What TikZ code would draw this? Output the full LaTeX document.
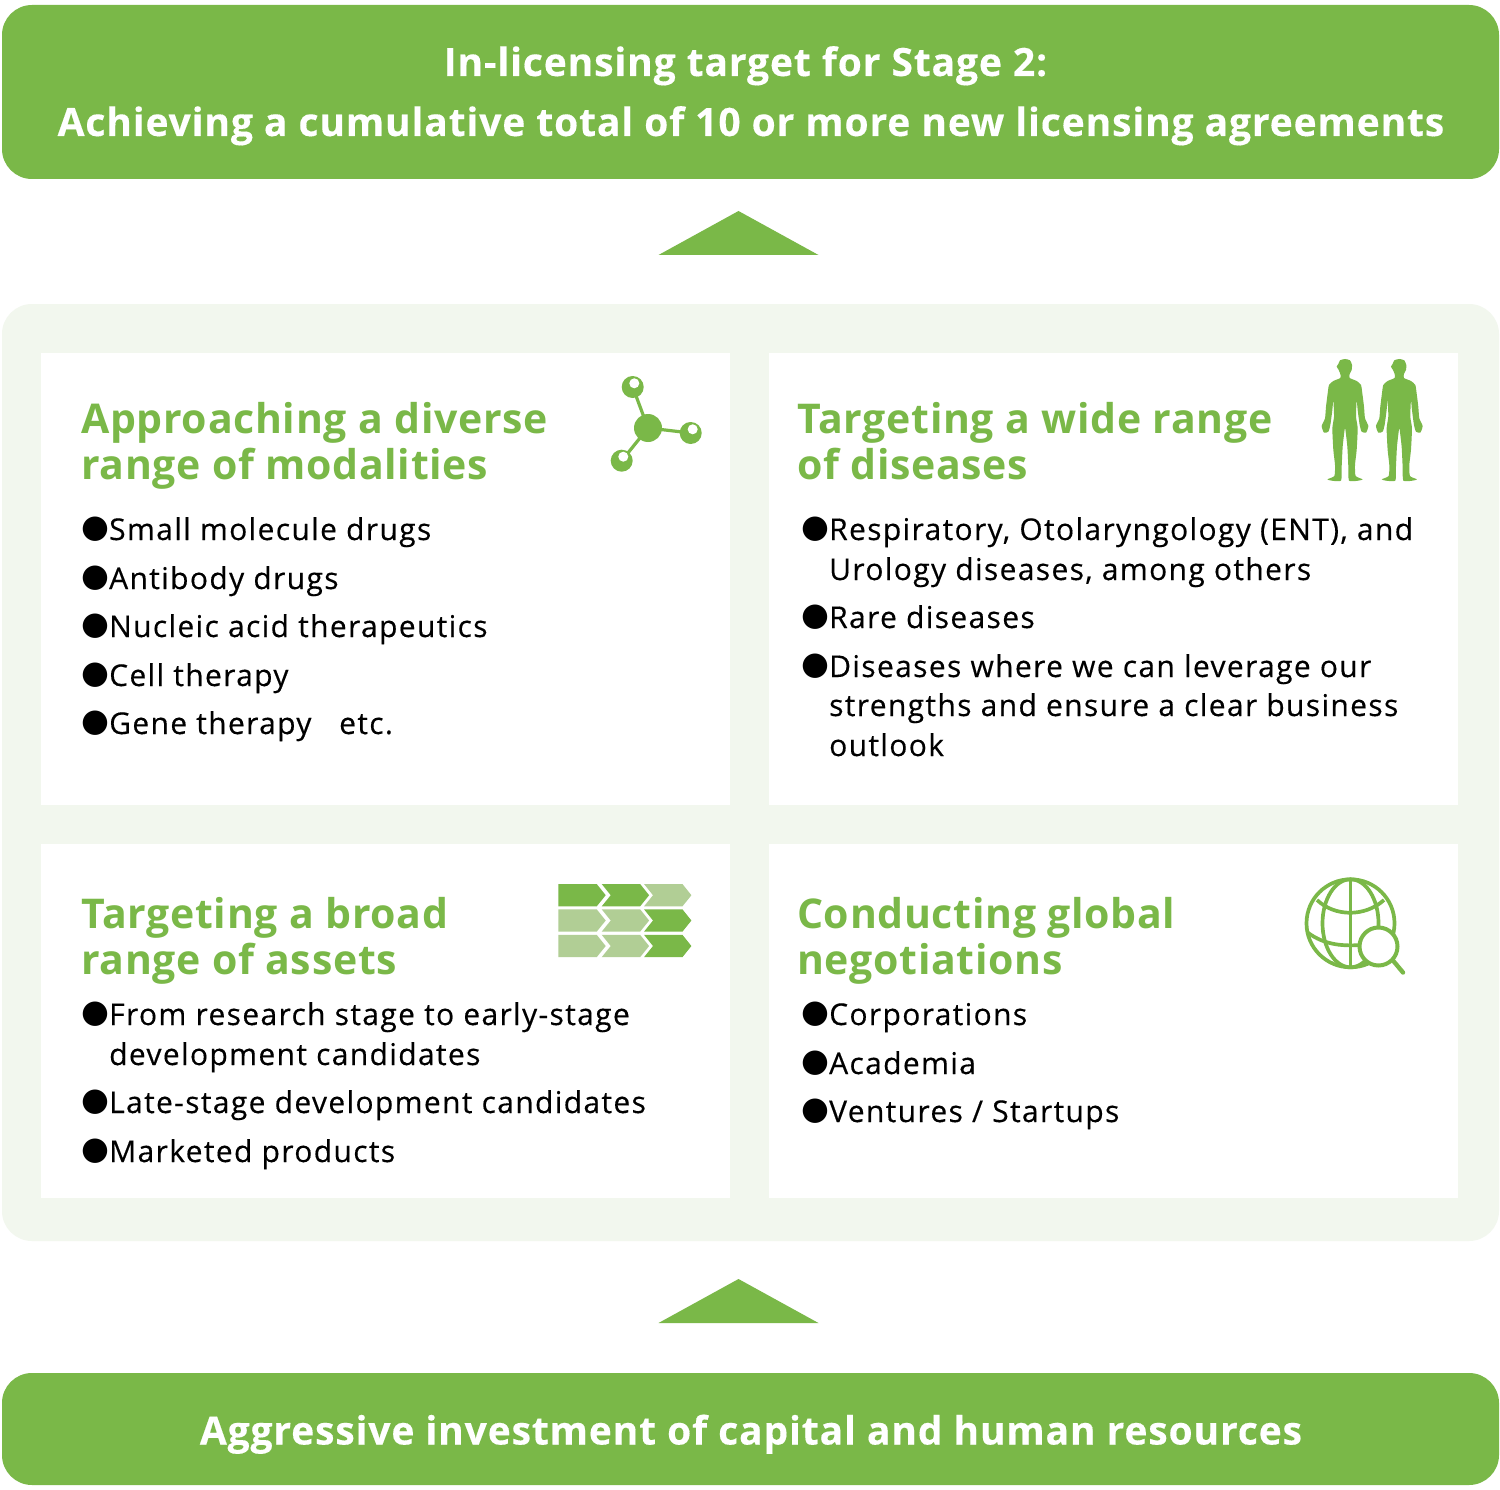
\documentclass[tikz,border=0pt]{standalone}
\usepackage{fontspec}
\setmainfont{Open Sans}
\newfontfamily\bodyfam{Open Sans}[LetterSpace=4.5,FakeBold=0.35]
\newfontfamily\bannerfam{Open Sans Bold}[LetterSpace=2.2,FakeBold=0.3]
\newfontfamily\headfam{Open Sans Bold}[LetterSpace=1.7]
\newfontfamily\bulletfont{DejaVu Sans}
\definecolor{grn}{HTML}{7AB848}
\definecolor{lgrn}{HTML}{B1CE95}
\definecolor{pale}{HTML}{F2F7EE}
\newcommand{\itm}[4]{\node[itemtext] (#1) at (#2,#3) {#4};}
\newcommand{\bul}[3]{\node[bulletmark] (#1) at (#2,#3) {●};}
\newcommand{\chev}[4]{\fill[#1] (#2,#3) -- ++(38.4,0) -- ++(9,11.2) -- ++(-9,11.2) -- ++(-38.4,0) -- ++(#4,-11.2) -- cycle;}
\newcommand{\person}[1]{%
\fill[grn,shift={(#1,350)},scale=0.3333] plot[smooth cycle,tension=0.35] coordinates {
(0,27)(15,31)(21,45)(20,60)(14,72)(14,84)(35,93)(48,105)(52,130)(57,170)(60,205)(70,228)(63,248)(50,245)(44,225)(38,180)(35,150)(33,200)(38,235)(35,300)(30,345)(32,378)(53,388)(40,392)(12,392)(10,350)(7,290)(1,238)
(-1,238)(-7,290)(-10,350)(-12,392)(-40,392)(-53,388)(-32,378)(-30,345)(-35,300)(-38,235)(-33,200)(-35,150)(-38,180)(-44,225)(-50,245)(-63,248)(-70,228)(-60,205)(-57,170)(-52,130)(-48,105)(-35,93)(-14,84)(-14,72)(-20,58)(-25,50)(-20,42)(-15,31)};}
\tikzset{x=1pt,y=-1pt,
 panel/.style={rounded corners=30pt,fill=grn},
 whitebox/.style={fill=white},
 bannertext/.style={text=white,font=\bannerfam\fontsize{39}{39}\selectfont,anchor=base,inner sep=0pt},
 headtext/.style={text=grn,font=\headfam\fontsize{41}{41}\selectfont,anchor=base west,inner sep=0pt},
 itemtext/.style={text=black,font=\bodyfam\fontsize{30}{30}\selectfont,anchor=base west,inner sep=0pt},
 bulletmark/.style={text=black,font=\bulletfont\fontsize{32}{32}\selectfont,anchor=center,inner sep=0pt},
 iconline/.style={draw=grn,line width=3.7pt}}
\begin{document}
\begin{tikzpicture}
\useasboundingbox (0,0) rectangle (1500,1490);
\fill[white] (0,0) rectangle (1500,1490);
\fill[panel] (2,5) rectangle (1499,179);
\fill[panel] (2,1373) rectangle (1499,1485);
\fill[pale,rounded corners=30pt] (2,304) rectangle (1499,1241);
\fill[grn] (738.5,211) -- (818.5,255) -- (658.5,255) -- cycle;
\fill[grn] (738.5,1279) -- (818.5,1323) -- (658.5,1323) -- cycle;
\fill[whitebox] (41,352.5) rectangle (730,804.5);
\fill[whitebox] (769,352.5) rectangle (1457.5,804.5);
\fill[whitebox] (41,843.5) rectangle (730,1197.5);
\fill[whitebox] (769,843.5) rectangle (1457.5,1197.5);
\node[bannertext] (t1) at (745.5,76) {In-licensing target for Stage 2:};
\node[bannertext] (t2) at (751,136) {Achieving a cumulative total of 10 or more new licensing agreements};
\node[bannertext] (t3) at (751,1444.5) {Aggressive investment of capital and human resources};
% headings
\node[headtext] (h1a) at (81,433) {Approaching a diverse};
\node[headtext] (h1b) at (81,479) {range of modalities};
\node[headtext] (h2a) at (797,433) {Targeting a wide range};
\node[headtext] (h2b) at (797,479) {of diseases};
\node[headtext] (h3a) at (81,928) {Targeting a broad};
\node[headtext] (h3b) at (81,974) {range of assets};
\node[headtext] (h4a) at (797,928) {Conducting global};
\node[headtext] (h4b) at (797,974) {negotiations};
% box 1
\bul{b1}{95}{529}\itm{i1}{109}{540}{Small molecule drugs}
\bul{b2}{95}{578}\itm{i2}{109}{589}{Antibody drugs}
\bul{b3}{95}{626}\itm{i3}{109}{637}{Nucleic acid therapeutics}
\bul{b4}{95}{675}\itm{i4}{109}{686}{Cell therapy}
\bul{b5}{95}{723}\itm{i5}{109}{734}{Gene therapy}
\itm{i5b}{339}{734}{etc.}
% box 2
\bul{b6}{815}{529}\itm{i6}{829}{540}{Respiratory, Otolaryngology (ENT), and}
\itm{i6b}{829}{580}{Urology diseases, among others}
\bul{b7}{815}{617}\itm{i7}{829}{628}{Rare diseases}
\bul{b8}{815}{666}\itm{i8}{829}{677}{Diseases where we can leverage our}
\itm{i8b}{829}{716}{strengths and ensure a clear business}
\itm{i8c}{829}{756}{outlook}
% box 3
\bul{b9}{95}{1014}\itm{i9}{109}{1025}{From research stage to early-stage}
\itm{i9b}{109}{1065}{development candidates}
\bul{b10}{95}{1102}\itm{i10}{109}{1113}{Late-stage development candidates}
\bul{b11}{95}{1151}\itm{i11}{109}{1162}{Marketed products}
% box 4
\bul{b12}{815}{1014}\itm{i12}{829}{1025}{Corporations}
\bul{b13}{815}{1063}\itm{i13}{829}{1074}{Academia}
\bul{b14}{815}{1111}\itm{i14}{829}{1122}{Ventures / Startups}
% molecule
\draw[grn,line width=3.2pt] (632.7,387) -- (648,428) (690.7,433) -- (648,428) (621.7,460.7) -- (648,428);
\fill[grn] (648,428) circle (14);
\fill[grn] (632.7,387) circle (11) (690.7,433) circle (11) (621.7,460.7) circle (11);
\fill[white] (634.3,383.3) circle (5) (692.7,429.3) circle (5) (623.3,456.7) circle (5);
% people
\person{1345}
\person{1399.3}
% chevrons
\chev{grn}{558.3}{884}{0}
\chev{grn}{601.7}{884}{9}
\chev{lgrn}{644}{884}{9}
\chev{lgrn}{558.3}{909.3}{0}
\chev{lgrn}{601.7}{909.3}{9}
\chev{grn}{644}{909.3}{9}
\chev{lgrn}{558.3}{934.8}{0}
\chev{lgrn}{601.7}{934.8}{9}
\chev{grn}{644}{934.8}{9}
% globe
\draw[iconline] (1350.5,923.3) circle (44);
\draw[iconline] (1350.5,879.3) -- (1350.5,967.3);
\draw[iconline] (1350.5,923.3) ellipse (28 and 44);
\draw[iconline] (1317,900) .. controls (1335,917) and (1365,917) .. (1384,900);
\draw[iconline] (1307,932) .. controls (1325,946) and (1345,946) .. (1362,945);
\draw[draw=grn,fill=white,line width=4pt] (1378.5,946.5) circle (19);
\draw[iconline,line width=4.4pt,line cap=round] (1393,960.5) -- (1403,972.5);
\end{tikzpicture}
\end{document}
